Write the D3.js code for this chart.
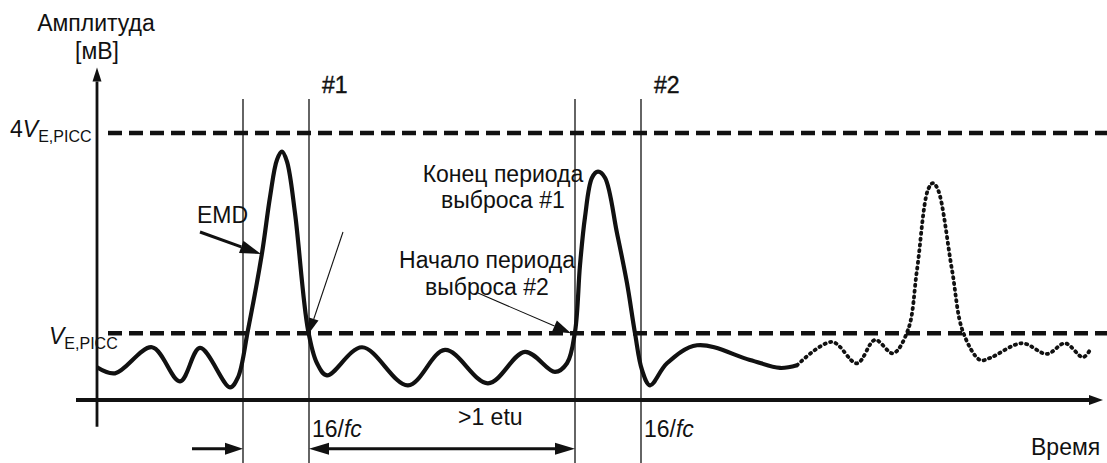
<!DOCTYPE html>
<html>
<head>
<meta charset="utf-8">
<script src="https://cdn.jsdelivr.net/npm/d3@7"></script>
<style>
  body { margin: 0; background: #fff; }
  text { font-family: Arial, "Liberation Sans", sans-serif; fill: #111; }
</style>
</head>
<body>
<svg id="chart"></svg>
<script>
// time in arbitrary units, amplitude in units of V_E,PICC
var solidTime = [0, 1.8, 5.5, 8.3, 10.3, 13.3, 14.1, 15.1, 16.5, 17.3, 18.0, 18.5, 19.0, 19.8, 21.1, 22.0, 23.0,
                 26.5, 31.1, 34.8, 39.1, 42.8, 45.8, 47.0, 47.8, 48.3, 48.8, 49.5, 50.1, 50.8, 52.0, 53.0, 53.8,
                 54.5, 55.3, 57.0, 60.0, 65.3, 68.3, 70.0];
var solidAmp  = [0.49, 0.40, 0.79, 0.28, 0.78, 0.19, 0.34, 1.05, 2.20, 3.04, 3.60, 3.72, 3.57, 2.80, 1.05, 0.55, 0.37,
                 0.79, 0.22, 0.75, 0.25, 0.72, 0.42, 0.55, 1.02, 2.02, 2.74, 3.33, 3.42, 3.33, 2.50, 1.75, 1.00,
                 0.45, 0.22, 0.55, 0.82, 0.60, 0.48, 0.52];
var dottedTime = [70.0, 73.5, 76.0, 77.8, 79.6, 81.1, 82.0, 83.1, 83.6, 84.1, 85.5, 86.6, 88.3, 89.3, 92.5, 95.0, 96.8, 98.6, 99.3];
var dottedAmp  = [0.52, 0.87, 0.55, 0.90, 0.70, 1.05, 1.95, 3.15, 3.25, 3.15, 1.95, 1.02, 0.60, 0.63, 0.85, 0.69, 0.85, 0.64, 0.75];

var markerTimes  = [14.6, 21.2, 47.8, 54.4];
var levelValues  = [1, 4];
var markerLabels = ["#1", "#2"];

var WIDTH  = 1107;
var HEIGHT = 463;
var INK    = "#111";
var FONT   = "23px";

var x = d3.scaleLinear().domain([0, 100]).range([97, 1097]);
var y = d3.scaleLinear().domain([0, 4]).range([400, 133]);

var svg = d3.select("#chart")
  .attr("width", WIDTH)
  .attr("height", HEIGHT);

function arrowHead(x1, y1, x2, y2, len, half) {
  var a = Math.atan2(y2 - y1, x2 - x1);
  var bx = x2 - len * Math.cos(a), by = y2 - len * Math.sin(a);
  var px = -Math.sin(a) * half, py = Math.cos(a) * half;
  svg.append("path")
    .attr("d", "M" + x2 + "," + y2 + "L" + (bx + px) + "," + (by + py) + "L" + (bx - px) + "," + (by - py) + "Z")
    .attr("fill", INK);
  return [bx, by];
}

function arrow(x1, y1, x2, y2, width, len, half) {
  var b = arrowHead(x1, y1, x2, y2, len, half);
  svg.append("line")
    .attr("x1", x1).attr("y1", y1)
    .attr("x2", b[0]).attr("y2", b[1])
    .attr("stroke", INK).attr("stroke-width", width);
}

// thin vertical markers
svg.selectAll(".marker").data(markerTimes).enter().append("line")
  .attr("class", "marker")
  .attr("x1", d => x(d)).attr("x2", d => x(d))
  .attr("y1", y(4.51)).attr("y2", HEIGHT)
  .attr("stroke", INK).attr("stroke-width", 1.3);

// threshold levels
svg.selectAll(".level").data(levelValues).enter().append("line")
  .attr("class", "level")
  .attr("x1", x(1.1)).attr("x2", WIDTH)
  .attr("y1", d => y(d)).attr("y2", d => y(d))
  .attr("stroke", INK).attr("stroke-width", 4.5)
  .attr("stroke-dasharray", "14,7");

// axes
arrow(x(0), y(-0.4), x(0), y(4.98), 2.8, 14, 4.5);
arrow(x(-2.1), y(0), x(100.6), y(0), 4, 14, 5);

// signal
var line = d3.line()
  .x(d => x(d[0]))
  .y(d => y(d[1]))
  .curve(d3.curveCatmullRom.alpha(0.5));

svg.append("path")
  .datum(d3.zip(solidTime, solidAmp))
  .attr("fill", "none")
  .attr("stroke", INK)
  .attr("stroke-width", 4.2)
  .attr("stroke-linejoin", "round")
  .attr("d", line);

svg.append("path")
  .datum(d3.zip(dottedTime, dottedAmp))
  .attr("fill", "none")
  .attr("stroke", INK)
  .attr("stroke-width", 3.8)
  .attr("stroke-linecap", "round")
  .attr("stroke-dasharray", "1.2,4.6")
  .attr("d", line);

// annotation arrows
arrow(200, 232, 261, 254, 3, 21, 6.5);
arrow(343, 232, x(21.2), y(1), 1.1, 15, 5);
arrow(478, 293, x(47.8) - 4, y(1), 1.1, 18, 6);
arrow(192, y(-0.73), x(14.6), y(-0.73), 3, 18, 6);
arrow(x(30), y(-0.73), x(21.2), y(-0.73), 3, 20, 6);
arrow(x(30), y(-0.73), x(47.8), y(-0.73), 3, 20, 6);

// texts
function label(tx, ty, str, anchor) {
  return svg.append("text")
    .attr("x", tx).attr("y", ty)
    .attr("text-anchor", anchor || "start")
    .style("font-size", FONT)
    .text(str);
}

label(x(0) - 1, 31, "Амплитуда", "middle");
label(x(0), 59, "[мВ]", "middle");
svg.selectAll(".mlabel").data(markerLabels).enter().append("text")
  .attr("class", "mlabel")
  .attr("x", (d, i) => x(markerTimes[i * 2 + 1]) + 13)
  .attr("y", 93)
  .style("font-size", FONT)
  .style("stroke", INK)
  .style("stroke-width", 0.4)
  .text(d => d);

function levelLabel(tx, ty, prefix) {
  var t = svg.append("text").attr("x", tx).attr("y", ty).style("font-size", FONT);
  if (prefix) t.append("tspan").text(prefix);
  t.append("tspan").style("font-style", "italic").text("V");
  t.append("tspan").attr("dy", 5).style("font-size", "16px").text("E,PICC");
}
levelLabel(10, y(4) + 4, "4");
levelLabel(49, y(1) + 11, "");

label(197, 223, "EMD");
label(503, 182, "Конец периода", "middle");
label(503, 208, "выброса #1", "middle");
label(487, 268, "Начало периода", "middle");
label(487, 295, "выброса #2", "middle");
label(458, 425, ">1 etu");
label(1031, 455, "Время");

function fcLabel(tx) {
  var t = svg.append("text").attr("x", tx).attr("y", 437).style("font-size", FONT);
  t.append("tspan").text("16/");
  t.append("tspan").style("font-style", "italic").text("fc");
}
fcLabel(x(21.2) + 3);
fcLabel(x(54.4) + 3);
</script>
</body>
</html>
